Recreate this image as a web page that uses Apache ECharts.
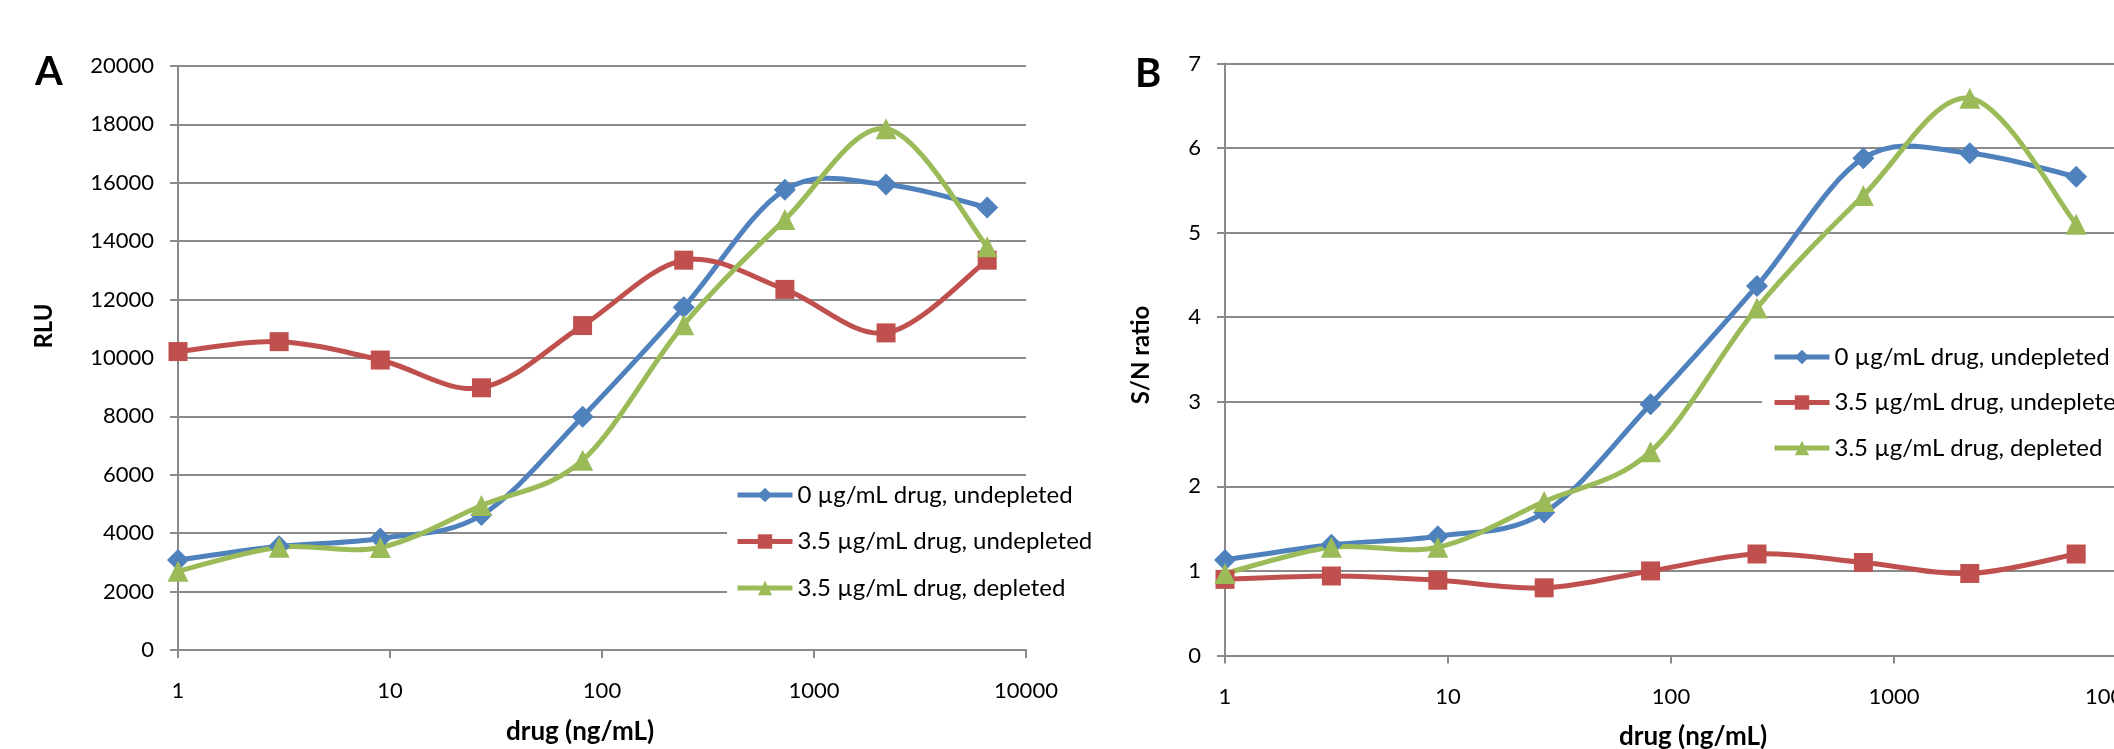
<!DOCTYPE html>
<html>
<head>
<meta charset="utf-8">
<script src="https://cdn.jsdelivr.net/npm/echarts@6/dist/echarts.min.js"></script>
<style>
html,body{margin:0;padding:0;background:#fff;}
#chart{width:2114px;height:749px;}
</style>
</head>
<body>
<div id="chart"></div>
<script>
// ---- data ----
const doses = [1, 3, 9, 27, 81, 243, 729, 2187, 6561];
const seriesNames = ['0 µg/mL drug, undepleted', '3.5 µg/mL drug, undepleted', '3.5 µg/mL drug, depleted'];
const rluBlue  = [3080, 3550, 3820, 4620, 7990, 11740, 15760, 15940, 15150];
const rluRed   = [10220, 10560, 9930, 8980, 11110, 13350, 12350, 10860, 13350];
const rluGreen = [2700, 3520, 3510, 4950, 6500, 11140, 14740, 17850, 13810];
const snBlue  = [1.13, 1.31, 1.41, 1.69, 2.97, 4.37, 5.88, 5.94, 5.66];
const snRed   = [0.90, 0.94, 0.89, 0.80, 1.00, 1.20, 1.10, 0.97, 1.20];
const snGreen = [0.97, 1.28, 1.28, 1.82, 2.41, 4.11, 5.44, 6.59, 5.10];
const panelLabels = ['A', 'B'];
const yTitles = ['RLU', 'S/N ratio'];
const xTitle = 'drug (ng/mL)';

// ---- style ----
const colors = ['#4F81BD', '#C0504D', '#9BBB59'];
const symbols = ['diamond', 'rect', 'triangle'];
const symbolSizes = [22, 19, 21];
const LINE_W = 5;
const FONT = 'Lato';
const gridGray = '#8a8a8a';

const chart = echarts.init(document.getElementById('chart'));

function pairs(ys) { return doses.map((d, i) => [d, ys[i]]); }

// Excel-like (Catmull-Rom) smoothing computed from the axis coordinates
function curvePath(pts) {
  let d = 'M' + pts[0][0] + ',' + pts[0][1];
  for (let i = 0; i < pts.length - 1; i++) {
    const p0 = pts[i - 1] || pts[i], p1 = pts[i], p2 = pts[i + 1], p3 = pts[i + 2] || pts[i + 1];
    const c1x = p1[0] + (p2[0] - p0[0]) / 6, c1y = p1[1] + (p2[1] - p0[1]) / 6;
    const c2x = p2[0] - (p3[0] - p1[0]) / 6, c2y = p2[1] - (p3[1] - p1[1]) / 6;
    d += ' C' + c1x + ',' + c1y + ' ' + c2x + ',' + c2y + ' ' + p2[0] + ',' + p2[1];
  }
  return d;
}

function curveSeries(idx, data, axisIdx) {
  const pts = pairs(data);
  return {
    id: 'curve' + axisIdx + '_' + idx,
    type: 'custom',
    xAxisIndex: axisIdx,
    yAxisIndex: axisIdx,
    data: pts,
    encode: { x: 0, y: 1 },
    clip: false,
    silent: true,
    z: 2,
    renderItem: function (params, api) {
      if (params.dataIndex !== 0) return null;
      const px = pts.map(p => api.coord(p));
      return {
        type: 'path',
        shape: { pathData: curvePath(px) },
        style: { stroke: colors[idx], lineWidth: LINE_W, fill: 'none', lineJoin: 'round', lineCap: 'round' }
      };
    }
  };
}

function markerSeries(idx, data, axisIdx) {
  return {
    name: seriesNames[idx],
    type: 'line',
    xAxisIndex: axisIdx,
    yAxisIndex: axisIdx,
    data: pairs(data),
    symbol: symbols[idx],
    symbolSize: symbolSizes[idx],
    showAllSymbol: true,
    color: colors[idx],
    lineStyle: { width: LINE_W, color: colors[idx], opacity: 0 },
    itemStyle: { color: colors[idx] },
    emphasis: { disabled: true },
    z: 3 + idx
  };
}

function xAxis(gridIndex) {
  return {
    type: 'log', logBase: 10, min: 1, max: 10000, gridIndex,
    axisLine: { show: true, lineStyle: { color: gridGray, width: 2 } },
    axisTick: { show: true, length: 8, lineStyle: { color: gridGray, width: 2 } },
    minorTick: { show: false },
    splitLine: { show: false },
    axisLabel: { color: '#000', fontFamily: FONT, fontSize: 22, margin: 30,
      formatter: v => String(Math.round(v)) }
  };
}

function yAxis(gridIndex, max, interval) {
  return {
    type: 'value', min: 0, max, interval, gridIndex,
    axisLine: { show: true, lineStyle: { color: gridGray, width: 2 } },
    axisTick: { show: true, length: 8, lineStyle: { color: gridGray, width: 2 } },
    splitLine: { show: true, lineStyle: { color: gridGray, width: 2 } },
    axisLabel: { color: '#000', fontFamily: FONT, fontSize: 22, margin: 24,
      formatter: v => String(v) }
  };
}

function legend(left, top, gap, padding) {
  return {
    data: seriesNames.map((n, i) => ({ name: n, lineStyle: { opacity: 1, width: LINE_W, color: colors[i] } })),
    orient: 'vertical',
    left, top,
    padding,
    itemGap: gap,
    itemWidth: 55,
    itemHeight: 18,
    backgroundColor: '#fff',
    selectedMode: false,
    textStyle: { color: '#000', fontFamily: FONT, fontSize: 24, lineHeight: 24 },
    z: 10
  };
}

const option = {
  backgroundColor: '#fff',
  animation: false,
  grid: [
    { left: 178, top: 66, width: 848, bottom: 99, outerBoundsMode: 'none', containLabel: false },
    { left: 1225, top: 63.5, width: 892, bottom: 93.5, outerBoundsMode: 'none', containLabel: false }
  ],
  xAxis: [xAxis(0), xAxis(1)],
  yAxis: [yAxis(0, 20000, 2000), yAxis(1, 7, 1)],
  legend: [
    legend(727, 476, 22.5, [7, 60, 20, 8]),
    legend(1762, 335, 21.5, [10, 60, 12, 10])
  ],
  series: [
    curveSeries(0, rluBlue, 0), curveSeries(1, rluRed, 0), curveSeries(2, rluGreen, 0),
    curveSeries(0, snBlue, 1), curveSeries(1, snRed, 1), curveSeries(2, snGreen, 1),
    markerSeries(0, rluBlue, 0), markerSeries(1, rluRed, 0), markerSeries(2, rluGreen, 0),
    markerSeries(0, snBlue, 1), markerSeries(1, snRed, 1), markerSeries(2, snGreen, 1)
  ],
  graphic: [
    { type: 'text', left: 35, top: 52, style: { text: panelLabels[0], font: 'bold 40px ' + FONT, fill: '#000' } },
    { type: 'text', left: 1135, top: 54, style: { text: panelLabels[1], font: 'bold 40px ' + FONT, fill: '#000' } },
    { type: 'text', x: 44, y: 326, rotation: Math.PI / 2,
      style: { text: yTitles[0], font: 'bold 24px ' + FONT, fill: '#000', align: 'center', verticalAlign: 'middle' } },
    { type: 'text', x: 1141, y: 355, rotation: Math.PI / 2,
      style: { text: yTitles[1], font: 'bold 24px ' + FONT, fill: '#000', align: 'center', verticalAlign: 'middle' } },
    { type: 'text', x: 580, y: 732,
      style: { text: xTitle, font: 'bold 26px ' + FONT, fill: '#000', align: 'center', verticalAlign: 'middle' } },
    { type: 'text', x: 1693, y: 737,
      style: { text: xTitle, font: 'bold 26px ' + FONT, fill: '#000', align: 'center', verticalAlign: 'middle' } }
  ]
};
chart.setOption(option);
</script>
</body>
</html>
